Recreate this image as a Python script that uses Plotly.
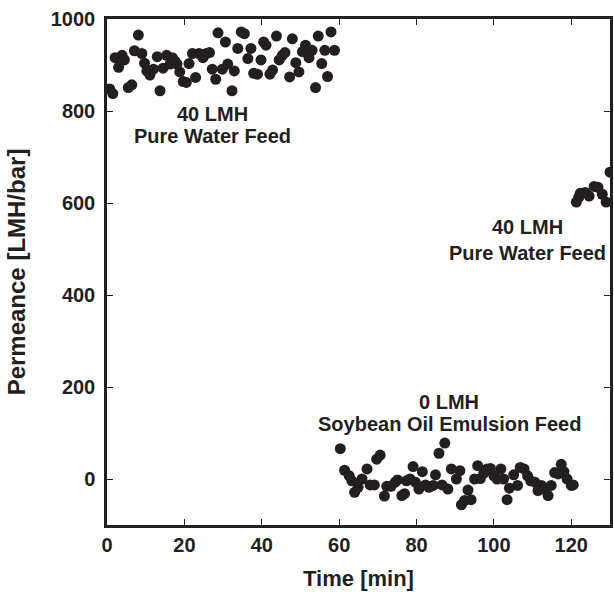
import plotly.graph_objects as go

# Segment 1: 40 LMH pure water feed (0-60 min)
t1 = [0.7, 1.5, 2.1, 3.0, 3.9, 4.5, 5.5, 6.4, 7.1, 8.1, 9.0, 9.7, 10.3, 11.1, 12.0, 13.0,
      13.7, 14.5, 15.4, 16.3, 16.9, 17.5, 18.1, 18.8, 19.7, 20.5, 21.2, 22.1, 22.9, 23.8,
      24.8, 25.7, 26.5, 27.2, 28.1, 28.7, 29.8, 30.6, 31.2, 32.3, 32.9, 33.8, 34.7, 35.5,
      36.4, 37.2, 37.9, 38.9, 39.8, 40.5, 41.1, 42.1, 42.8, 43.8, 44.5, 45.3, 46.0, 47.2,
      47.9, 48.8, 49.6, 50.5, 51.3, 52.2, 53.0, 53.9, 54.6, 55.5, 56.3, 57.0, 57.9, 58.8]
p1 = [848, 838, 916, 895, 921, 911, 851, 857, 931, 965, 925, 904, 887, 878, 891, 918,
      844, 893, 921, 902, 916, 909, 902, 885, 864, 862, 903, 925, 873, 925,
      916, 925, 927, 891, 869, 970, 891, 950, 902, 844, 887, 936, 972, 968,
      914, 936, 882, 880, 911, 950, 943, 880, 889, 963, 911, 921, 927, 874,
      957, 905, 885, 929, 943, 916, 932, 851, 963, 903, 932, 875, 972, 932]

# Segment 2: 0 LMH soybean oil emulsion feed (60-120 min)
t2 = [60.3, 61.4, 62.6, 63.3, 64.0, 64.9, 65.9, 67.2, 68.0, 69.1, 69.7, 70.6, 71.7, 72.3,
      73.4, 74.5, 75.1, 76.2, 76.9, 77.4, 78.3, 79.1, 79.7, 80.6, 81.5, 82.3, 83.2, 84.3,
      84.9, 85.8, 86.6, 87.3, 88.1, 89.0, 90.3, 91.2, 91.6, 92.4, 93.3, 94.1, 95.0, 95.8,
      96.5, 97.4, 98.2, 99.1, 100.0, 100.8, 101.8, 102.5, 103.4, 104.0, 105.1, 106.1,
      106.8, 107.8, 108.7, 109.5, 110.6, 111.4, 112.3, 113.1, 114.0, 114.8, 115.7, 116.6,
      117.4, 118.1, 118.9, 120.0, 120.5]
p2 = [66, 19, 7, -4, -29, -18, 0, 22, -13, -13, 43, 52, -37, -16,
      -16, -7, -2, -36, -32, -4, 0, 27, -7, -22, 16, -13, -18, -14,
      9, 56, -13, 78, -22, 22, 0, 18, -56, -47, -24, -45, 0, 29,
      1, 13, 22, 23, 7, 0, 22, 0, -45, -20, 9, -14,
      25, 22, 7, -4, -7, -25, -14, -22, -36, -14, 14, 11,
      32, 16, 0, -14, -13]

# Segment 3: 40 LMH pure water feed (120-130 min)
t3 = [121.3, 121.9, 122.3, 123.6, 124.6, 125.9, 126.9, 128.0, 129.0, 130.0]
p3 = [602, 612, 621, 623, 615, 636, 634, 619, 602, 667]

x_ticks = [0, 20, 40, 60, 80, 100, 120]
y_ticks = [0, 200, 400, 600, 800, 1000]

ink = "#231f20"
font_family = "Arial, Liberation Sans, Helvetica, sans-serif"

fig = go.Figure()
for tt, pp in [(t1, p1), (t2, p2), (t3, p3)]:
    fig.add_trace(go.Scatter(x=tt, y=pp, mode="markers",
                             marker=dict(size=11, color=ink, line=dict(width=0)),
                             showlegend=False))

notes = [
    (27.3, 794, "40 LMH"), (27.3, 745, "Pure Water Feed"),
    (108.6, 548, "40 LMH"), (108.6, 491, "Pure Water Feed"),
    (88.4, 167, "0 LMH"), (88.4, 119, "Soybean Oil Emulsion Feed"),
]
for x, y, txt in notes:
    fig.add_annotation(x=x, y=y, xref="x", yref="y", text="<b>%s</b>" % txt,
                       showarrow=False, font=dict(size=20, color=ink, family=font_family))

axis_common = dict(showline=True, linewidth=2.5, linecolor=ink, mirror="ticks",
                   ticks="inside", ticklen=6, tickwidth=1, tickcolor=ink,
                   showgrid=False, zeroline=False,
                   tickfont=dict(size=20, color=ink, family=font_family))

fig.update_xaxes(range=[0, 130], tickvals=x_ticks,
                 ticktext=["<b>%d</b>" % v for v in x_ticks],
                 title=dict(text="<b>Time [min]</b>", standoff=16,
                            font=dict(size=22, color=ink, family=font_family)),
                 **axis_common)
fig.update_yaxes(range=[-100, 1000], tickvals=y_ticks,
                 ticktext=["<b>%d</b>" % v for v in y_ticks],
                 ticklabelstandoff=5,
                 title=dict(text="<b>Permeance [LMH/bar]</b>", standoff=19,
                            font=dict(size=24, color=ink, family=font_family)),
                 **axis_common)

fig.update_layout(width=614, height=592, plot_bgcolor="white", paper_bgcolor="white",
                  margin=dict(l=107, r=1, t=19, b=67), font=dict(family=font_family))

# remove the default page margin so the figure fills the window exactly
fig.write_html("out.html", config={"displayModeBar": False},
               post_script="document.body.style.margin='0';")
